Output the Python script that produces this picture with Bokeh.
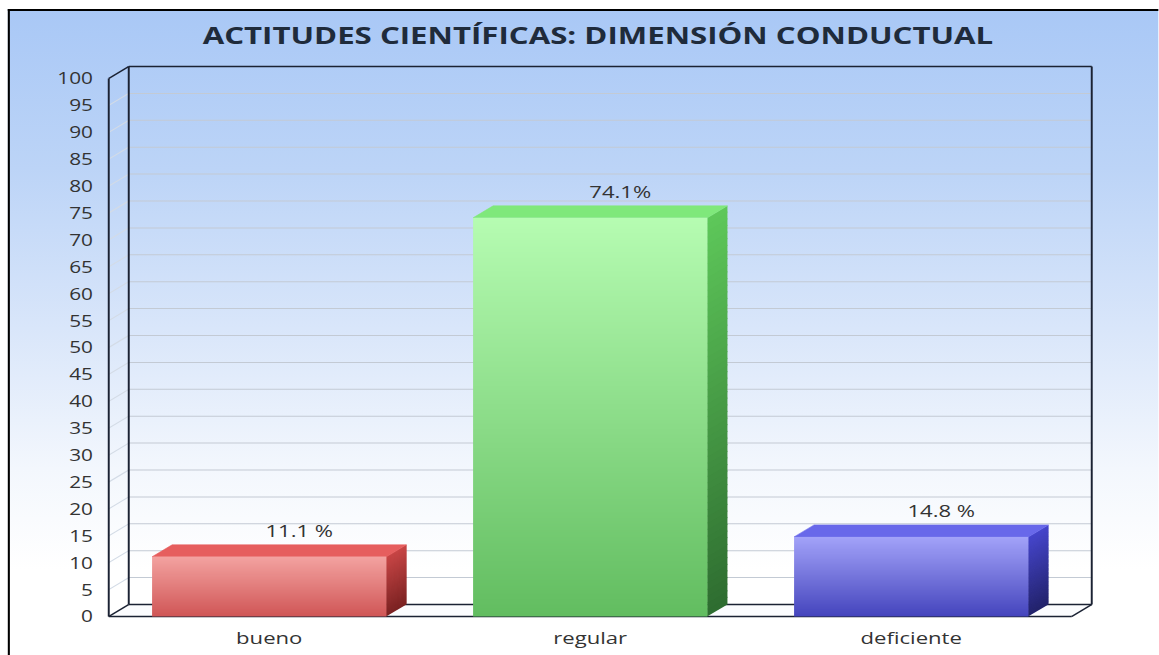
import numpy as np
from bokeh.plotting import figure
from bokeh.models import Range1d, FixedTicker
from bokeh.embed import file_html
from bokeh.resources import INLINE
from bokeh.core.properties import value

# ---------------- data ----------------
categories = ["bueno", "regular", "deficiente"]
percentages = [11.1, 74.1, 14.8]
value_labels = ["11.1 %", "74.1%", "14.8 %"]
y_ticks = list(range(0, 101, 5))
title_text = "ACTITUDES CIENTÍFICAS: DIMENSIÓN CONDUCTUAL"

# ---------------- style ----------------
front_top = ["#f4a4a2", "#b6fcb2", "#a4a4fa"]
front_bottom = ["#d05656", "#62bd60", "#4545bd"]
top_face = ["#e65e5e", "#7fe87b", "#6868ea"]
side_top = ["#c84646", "#5ec85a", "#4646cc"]
side_bottom = ["#7a2222", "#2e6c30", "#22226a"]
FONT = "Open Sans"
K = 1.3                      # horizontal stretch of the whole picture
PX_X = 321.0                 # screen px per category (after stretch)
PX_Y = 5.38                  # screen px per percent
DX = 20 / PX_X               # 3-D depth offset (x units)
DY = 12 / PX_Y               # 3-D depth offset (y units)
BAR_W = 0.73
NSL = 60
NIMG = 256
FW, FH = 765, 559            # frame size (design px)
W, H = 891, 655


def hex2rgb(h):
    h = h.lstrip("#")
    return [int(h[i:i + 2], 16) for i in (0, 2, 4)]


def lerp(c0, c1, t):
    a, b = hex2rgb(c0), hex2rgb(c1)
    return "#%02x%02x%02x" % tuple(int(round(a[k] + (b[k] - a[k]) * t)) for k in range(3))


def gradient_image(c_bottom, c_top, n):
    a = np.array(hex2rgb(c_bottom), dtype=float)
    b = np.array(hex2rgb(c_top), dtype=float)
    img = np.empty((n, 1), dtype=np.uint32)
    view = img.view(dtype=np.uint8).reshape((n, 1, 4))
    for j in range(n):
        tt = j / (n - 1)
        col = a + (b - a) * tt
        view[j, 0, 0:3] = np.round(col).astype(np.uint8)
        view[j, 0, 3] = 255
    return img


ncat = len(categories)
x0r = -8 / PX_X
y0r = -3 / PX_Y
p = figure(
    frame_width=FW, frame_height=FH,
    x_range=Range1d(x0r, x0r + FW * K / PX_X),
    y_range=Range1d(y0r, y0r + FH / PX_Y),
    output_backend="svg", toolbar_location=None,
    min_border_left=77, min_border_right=W - 77 - FW, min_border_top=60,
    min_border_bottom=H - 60 - FH,
    title=title_text,
)
p.styles = {
    "background": (
        "linear-gradient(#000,#000) 6px 9px / 1.6px 100% no-repeat, "
        "linear-gradient(#000,#000) 6px 9px / 100% 2px no-repeat, "
        "linear-gradient(to bottom, #a9c8f6 0px, #bcd4f7 160px, #d9e6fa 320px, #f3f7fd 460px, #ffffff 560px) "
        "6px 9px / 100% 100% no-repeat, #ffffff"
    ),
    "transform": "scaleX(%g)" % K,
    "transform-origin": "0 0",
}
p.border_fill_color = None
p.background_fill_color = None
p.outline_line_color = None
p.xgrid.visible = False
p.ygrid.visible = False

p.title.text_font = FONT
p.title.text_font_size = "24px"
p.title.text_font_style = "bold"
p.title.text_color = "#1f2b3b"
p.title.align = "center"
p.title.standoff = 18
p.title.offset = -7

# axes
p.yaxis.ticker = FixedTicker(ticks=y_ticks)
p.yaxis.axis_line_color = None
p.yaxis.major_tick_line_color = None
p.yaxis.major_tick_out = 0
p.yaxis.minor_tick_line_color = None
p.yaxis.major_label_standoff = 6
p.yaxis.major_label_text_font = FONT
p.yaxis.major_label_text_font_size = "16px"
p.yaxis.major_label_text_color = "#333333"

xt = [i + 0.5 for i in range(ncat)]
p.xaxis.ticker = FixedTicker(ticks=xt)
p.xaxis.major_label_overrides = {x: c for x, c in zip(xt, categories)}
p.xaxis.axis_line_color = None
p.xaxis.major_tick_line_color = None
p.xaxis.major_tick_out = 0
p.xaxis.minor_tick_line_color = None
p.xaxis.major_label_standoff = 7
p.xaxis.major_label_text_font = FONT
p.xaxis.major_label_text_font_size = "17px"
p.xaxis.major_label_text_color = "#333333"

# floor
p.patch([0, ncat, ncat + DX, DX], [0, 0, DY, DY], fill_color="#fbfcfe", line_color=None)

# back-wall grid lines
gy = [v + DY for v in y_ticks[1:-1]]
p.segment(x0=[DX] * len(gy), y0=gy, x1=[ncat + DX] * len(gy), y1=gy,
          line_color="#c3cad4", line_width=1)
# left-wall diagonal grid
gl = y_ticks[1:-1]
p.segment(x0=[0] * len(gl), y0=gl, x1=[DX] * len(gl), y1=[v + DY for v in gl],
          line_color="#d3dbe6", line_width=1)

# box lines
ax = "#1b2233"
lx0 = [DX, DX, ncat + DX, DX, 0, 0, 0, 0, ncat]
ly0 = [DY, 100 + DY, DY, DY, 0, 100, 0, 0, 0]
lx1 = [DX, ncat + DX, ncat + DX, ncat + DX, 0, DX, ncat, DX, ncat + DX]
ly1 = [100 + DY, 100 + DY, 100 + DY, DY, 100, 100 + DY, 0, DY, DY]
p.segment(x0=lx0, y0=ly0, x1=lx1, y1=ly1, line_color=ax, line_width=1.5)

# bars
t = np.linspace(0, 1, NSL + 1)
ov = 1.0 / PX_Y   # slight overlap between slices
for i, v in enumerate(percentages):
    c = i + 0.5
    x0, x1 = c - BAR_W / 2, c + BAR_W / 2
    # side face (sliced gradient)
    xs, ys, cols = [], [], []
    for k in range(NSL):
        a, b = v * t[k], min(v * t[k + 1] + ov, v)
        xs.append([x1 - 0.001, x1 + DX, x1 + DX, x1 - 0.001])
        ys.append([a, a + DY, b + DY, b])
        cols.append(lerp(side_bottom[i], side_top[i], (t[k] + t[k + 1]) / 2))
    p.patches(xs=xs, ys=ys, fill_color=cols, line_color=None)
    # top face
    p.patch([x0, x1, x1 + DX, x0 + DX], [v, v, v + DY, v + DY],
            fill_color=top_face[i], line_color=top_face[i], line_width=0.5)
    # front face (smooth vertical gradient)
    p.image_rgba(image=[gradient_image(front_bottom[i], front_top[i], NIMG)],
                 x=x0, y=0, dw=x1 - x0, dh=v)

# value labels
p.text(x=xt, y=percentages, text=value_labels, x_offset=30 / K, y_offset=-15,
       text_align="center", text_baseline="bottom",
       text_font=value(FONT), text_font_size="17px", text_color="#333333")

open("out.html", "w").write(file_html(p, INLINE))
